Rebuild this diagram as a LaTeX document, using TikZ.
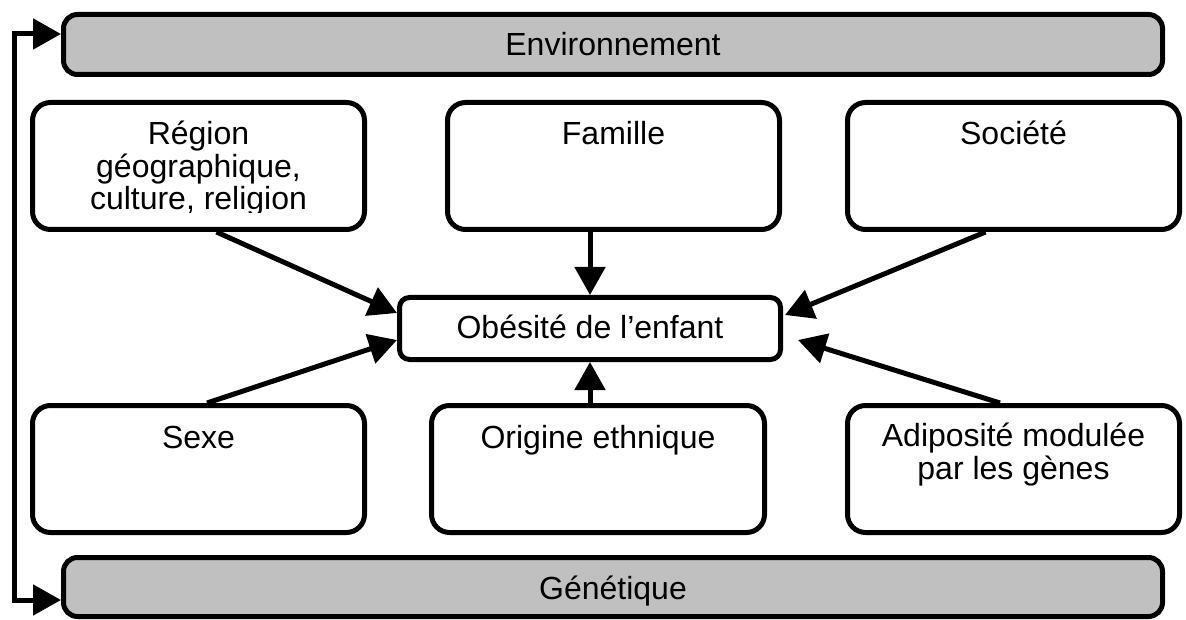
\documentclass[tikz,border=0pt]{standalone}
\usepackage{fontspec}
\setmainfont{Liberation Sans}
\usetikzlibrary{arrows.meta}
\definecolor{boxgray}{HTML}{C0C0C0}
\tikzset{
  box/.style={draw=black, line width=5pt, rounded corners=18pt, fill=white, inner sep=0pt},
  band/.style={draw=black, line width=5pt, rounded corners=14pt, fill=boxgray, inner sep=0pt},
  centre/.style={draw=black, line width=5pt, rounded corners=10pt, fill=white, inner sep=0pt},
  txt/.style={font=\fontsize{32}{32.5}\selectfont, anchor=base, inner sep=0pt, align=center},
  arr/.style={line width=5pt, -{Triangle[length=28pt,width=30pt]}},
  barr/.style={line width=5pt, {Triangle[length=28pt,width=30pt]}-{Triangle[length=28pt,width=30pt]}}
}
\begin{document}
\begin{tikzpicture}[x=1pt,y=-1pt]
\useasboundingbox (0,0) rectangle (1186,620);
% bands
\node[band, minimum width=1099pt, minimum height=60pt] (env) at (613,44.5) {};
\node[band, minimum width=1099pt, minimum height=59pt] (gen) at (613,587) {};
% boxes
\node[box, minimum width=332pt, minimum height=127pt] (reg) at (198.5,166) {};
\node[box, minimum width=332pt, minimum height=127pt] (fam) at (613.5,166) {};
\node[box, minimum width=332pt, minimum height=127pt] (soc) at (1013.5,166) {};
\node[box, minimum width=332pt, minimum height=127pt] (sex) at (198.5,469) {};
\node[box, minimum width=333pt, minimum height=127pt] (ori) at (598,469) {};
\node[box, minimum width=332pt, minimum height=127pt] (adi) at (1013.5,469) {};
\node[centre, minimum width=381pt, minimum height=62pt] (ob) at (590,328.5) {};
% texts
\node[txt] (tenv) at (613,56) {Environnement};
\node[txt] (tgen) at (613,599) {Génétique};
\begin{scope}
\clip (30,100) rectangle (367,212.5);
\node[txt] (treg) at (198.5,210) {Région\\géographique,\\culture, religion};
\end{scope}
\node[txt] (tfam) at (613.5,145) {Famille};
\node[txt] (tsoc) at (1013.5,145) {Société};
\node[txt] (tsex) at (198.5,448) {Sexe};
\node[txt] (tori) at (598,448) {Origine ethnique};
\node[txt] (tadi) at (1013.5,479) {Adiposité modulée\\par les gènes};
\node[txt] (tob) at (590,338) {Obésité de l’enfant};
% connectors
\draw[arr] ([xshift=18pt]reg.south) -- ([yshift=15.5pt]ob.west);
\draw[arr] ([xshift=-23.5pt]fam.south) -- (ob.north);
\draw[arr] ([xshift=-28pt]soc.south) -- ([xshift=2pt,yshift=13.5pt]ob.east);
\draw[arr] ([xshift=8.5pt]sex.north) -- ([yshift=-11.5pt]ob.west);
\draw[arr] ([xshift=-8pt]ori.north) -- (ob.south);
\draw[arr] ([xshift=-13.5pt]adi.north) -- ([xshift=15pt,yshift=-11.5pt]ob.east);
\coordinate (ltop) at (14,34);
\coordinate (lbot) at (14,600);
\draw[barr, line join=miter] ([yshift=10.5pt]env.west) -- (ltop) -- (lbot) -- ([yshift=-13pt]gen.west);
\end{tikzpicture}
\end{document}
